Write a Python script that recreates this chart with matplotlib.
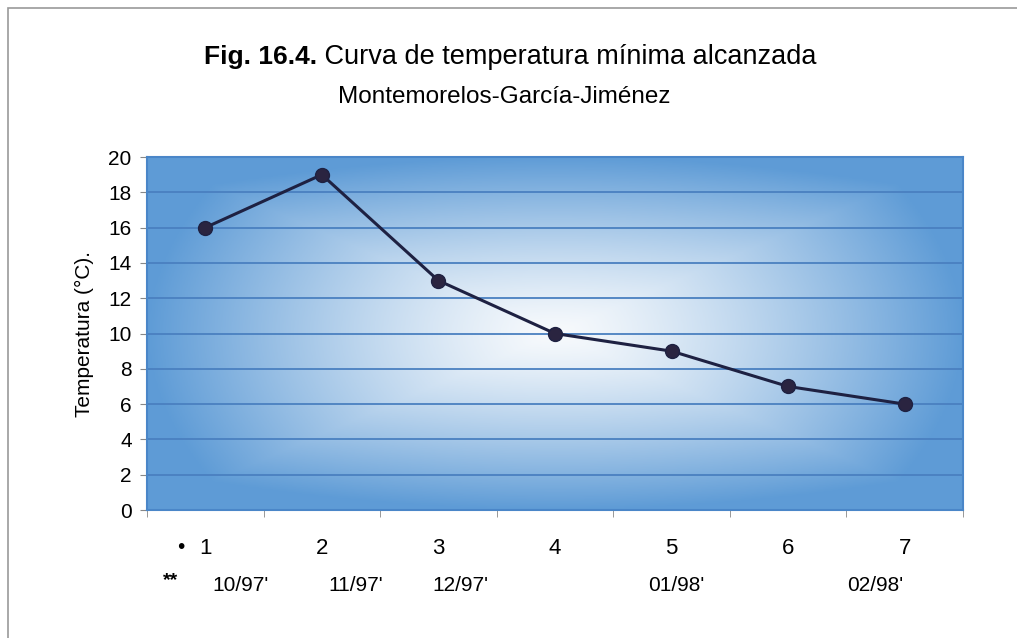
import matplotlib.pyplot as plt
import numpy as np
from matplotlib.patches import Rectangle

# data
meses = ["1", "2", "3", "4", "5", "6", "7"]
temp_min = [16, 19, 13, 10, 9, 7, 6]
fechas = ["10/97'", "11/97'", "12/97'", "01/98'", "02/98'"]
fechas_x = [0.3, 1.29, 2.19, 4.04, 5.75]

plt.rcParams['font.family'] = ['Liberation Sans', 'DejaVu Sans']

fig = plt.figure(figsize=(10.17, 6.38), dpi=100)
ax = fig.add_axes([0.1445, 0.2006, 0.8024, 0.5533])

x = np.arange(len(meses))
ax.set_xlim(-0.5, len(meses) - 0.5)
ax.set_ylim(0, 20)

# gradient background, light in the middle, blue at the edges
gx, gy = np.meshgrid(np.linspace(-1, 1, 300), np.linspace(-1, 1, 200))
d = np.clip(0.55 * np.maximum(np.abs(gx), np.abs(gy)) + 0.45 * np.sqrt(gx**2 + gy**2), 0, 1)
d = d ** 1.3
edge = np.array([0.37, 0.61, 0.84])
centre = np.array([0.97, 0.98, 0.99])
img = centre + (edge - centre) * d[..., None]
ax.imshow(img, extent=[-0.5, len(meses) - 0.5, 0, 20], aspect='auto', zorder=0)

ax.grid(axis='y', color='#4a80c0', linewidth=1.3, zorder=1)
ax.set_axisbelow(True)
for s in ax.spines.values():
    s.set_color('#4a86c8')
    s.set_linewidth(1.5)

ax.plot(x, temp_min, color='#1e2142', linewidth=2.2, marker='o', markersize=10,
        markerfacecolor='#2a2440', markeredgecolor='#1e2142', zorder=3)

ax.set_yticks(range(0, 21, 2))
ax.tick_params(axis='y', labelsize=15, length=5, color='#888888', pad=6)
ax.set_xticks(x)
ax.set_xticklabels(meses, fontsize=16)
ax.tick_params(axis='x', length=0, pad=20)
ax.set_xticks(np.arange(-0.5, len(meses), 1), minor=True)
ax.tick_params(axis='x', which='minor', length=5, color='#888888')

ax.set_ylabel('Temperatura (°C).', fontsize=15, labelpad=10)

# extra row of labels below the axis
ax.text(-0.21, -2.1, '•', fontsize=15, ha='center', va='center')
ax.text(-0.3, -4.0, '**', fontsize=14, fontweight='bold', ha='center', va='center')
for fx, f in zip(fechas_x, fechas):
    ax.text(fx, -4.25, f, fontsize=15, ha='center', va='center')

# title
fig.text(0.3115, 0.91, 'Fig. 16.4.', fontsize=19, fontweight='bold', ha='right', va='center')
fig.text(0.3115, 0.91, ' Curva de temperatura mínima alcanzada', fontsize=19.5, ha='left', va='center')
fig.text(0.4955, 0.848, 'Montemorelos-García-Jiménez', fontsize=17.5, ha='center', va='center')

fig.patches.append(Rectangle((0.008, -0.1), 1.2, 1.1 - 8 / 638, transform=fig.transFigure,
                             fill=False, edgecolor='#999999', linewidth=1.2))

fig.savefig('out.png', dpi=100)
